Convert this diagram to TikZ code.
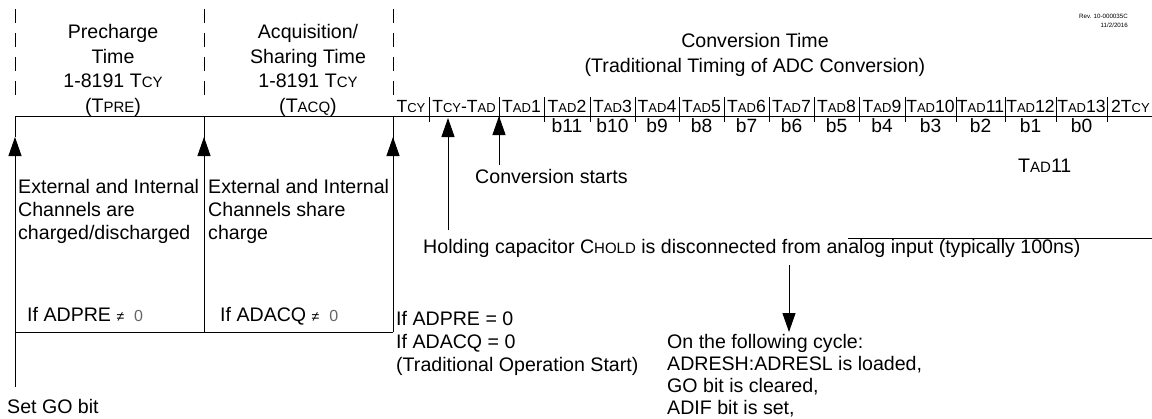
\documentclass[tikz,border=0pt]{standalone}
\usepackage{fontspec}
\setmainfont{Liberation Sans}
\usetikzlibrary{arrows.meta,positioning}
\newcommand{\lc}[1]{{\fontsize{15}{13}\selectfont #1}}
\newcommand{\lct}[1]{{\fontsize{13}{12}\selectfont #1}}
\newcommand{\nz}{{\fontsize{14}{14}\selectfont ≠}\hspace{10pt}{\fontsize{16}{16}\selectfont\color{black!60}0}}

\begin{document}
\begin{tikzpicture}[x=1pt,y=-1pt,>={Triangle[length=19pt,width=13pt]},
 txt/.style={inner sep=0pt,font=\fontsize{19.6}{24.5}\selectfont},
 note/.style={inner sep=0pt,anchor=base west,align=left,font=\fontsize{19.6}{23}\selectfont},
 tm/.style={inner sep=0pt,anchor=base,font=\fontsize{17.6}{17.6}\selectfont},
 bit/.style={inner sep=0pt,anchor=base,font=\fontsize{19.2}{19}\selectfont},
 sep/.style={line width=1pt,dash pattern=on 14pt off 10pt},
 wire/.style={line width=1pt},
 arrow/.style={->,line width=1pt}]
\useasboundingbox (0,0) rectangle (1152,418);

\node[inner sep=0pt,anchor=base east,align=right,font=\fontsize{6.2}{9}\selectfont] (rev) at (1128,27) {Rev. 10-000035C\\11/2/2016};

\node[txt,align=center,anchor=base] (pre) at (113,112) {Precharge\\Time\\1-8191 T\lc{CY}\\(T\lc{PRE})};
\node[txt,align=center,anchor=base] (acq) at (308,112) {Acquisition/\\Sharing Time\\1-8191 T\lc{CY}\\(T\lc{ACQ})};
\node[txt,align=center,anchor=base] (conv) at (755,72) {Conversion Time\\(Traditional Timing of ADC Conversion)};

% phase borders
\foreach \x [count=\n] in {15,204,393}{
  \draw[sep] (\x,9) -- (\x,104);
  \coordinate (p\n) at (\x,116);
  \coordinate (h\n) at (\x,137);
}
\coordinate (go) at (15,387);
\coordinate (b1) at (15,332);
\coordinate (b2) at (204,332);
\coordinate (b3) at (393,332);
\coordinate (lend) at (1152,116);
\draw[wire] (p1) -- (lend);

% timeline
\foreach \x [count=\n] in {429,499,544,590,635,679,724,769,814,859,905,956,1005,1056,1107}
  \draw[wire] (\x,97) -- (\x,122) coordinate (t\n);
\node[tm] (tcy) at (411,112) {T\lct{CY}};
\node[tm] (tcyad) at (464,112) {T\lct{CY}-T\lct{AD}};
\foreach \a/\b [count=\i] in {499/544,544/590,590/635,635/679,679/724,724/769,769/814,814/859,859/905,905/956,956/1005,1005/1056,1056/1107}{
  \node[tm] (tad\i) at ({(\a+\b)/2},112) {T\lct{AD}\i};
  \ifnum\i>1
    \pgfmathtruncatemacro\bb{13-\i}
    \node[bit] (bit\bb) at ({(\a+\b)/2},132) {b\bb};
  \fi
}
\node[tm,anchor=base west] (tend) at (1111,112) {2T\lct{CY}};

% phases
\draw[wire] (p2) -- (b2);
\draw[wire] (p3) -- (b3);
\draw[wire] (p1) -- (h1);
\draw[arrow] (go) -- (h1);
\draw[arrow] (b2) -- (h2);
\draw[arrow] (b3) -- (h3);
\draw[wire] (b1) -- (b3);
\node[note] (chpre) at (18,239) {External and Internal\\Channels are\\charged/discharged};
\node[note] (chacq) at (208,239) {External and Internal\\Channels share\\charge};
\node[note] (ifpre) at (27,321) {If ADPRE \nz};
\node[note] (ifacq) at (220,321) {If ADACQ \nz};
\node[note] (trad) at (396,371) {If ADPRE = 0\\If ADACQ = 0\\(Traditional Operation Start)};
\node[note] (setgo) at (7,413) {Set GO bit};

% conversion
\node[note] (cstart) at (475,183) {Conversion starts};
\node[note] (hold) at (423,253) {Holding capacitor C\lc{HOLD} is disconnected from analog input (typically 100ns)};
\node[note] (tadx) at (1018,172) {T\lc{AD}11};
\coordinate (csf) at (499,165);
\coordinate (csh) at (499,116);
\coordinate (hdf) at (448,230);
\coordinate (hdh) at (448,118);
\draw[arrow] (csf) -- (csh);
\draw[arrow] (hdf) -- (hdh);
\coordinate (ov1) at (848,238);
\coordinate (ov2) at (1152,238);
\draw[wire] (ov1) -- (ov2);
\node[note,font=\fontsize{19.6}{22}\selectfont] (done) at (667,414) {On the following cycle:\\ADRESH:ADRESL is loaded,\\GO bit is cleared,\\ADIF bit is set,};
\coordinate (dn1) at (789,265);
\coordinate (dn2) at (789,332);
\draw[arrow] (dn1) -- (dn2);
\end{tikzpicture}
\end{document}
